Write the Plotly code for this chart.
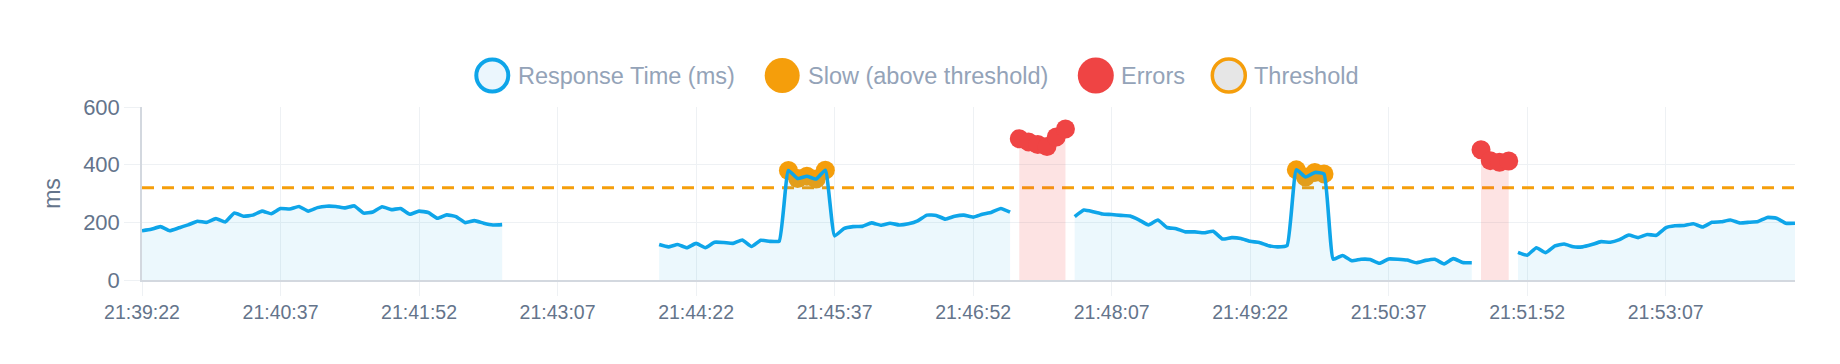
import plotly.graph_objects as go
import pandas as pd

# ---------------- data ----------------
times = pd.date_range("2024-01-01 21:39:22", periods=180, freq="5s").strftime("%H:%M:%S").tolist()

tick_labels = ["21:39:22", "21:40:37", "21:41:52", "21:43:07", "21:44:22", "21:45:37",
               "21:46:52", "21:48:07", "21:49:22", "21:50:37", "21:51:52", "21:53:07"]

response_ms = [
    171, 176, 185, 171, 181, 191, 204, 200, 213, 201, 232, 221, 225, 239, 230, 248, 246, 255, 239, 251,
    256, 255, 250, 257, 232, 236, 254, 244, 248, 228, 239, 234, 214, 226, 220, 199, 206, 197, 191, 192,
    None, None, None, None, None, None, None, None, None, None, None, None, None, None, None, None,
    123, 115, 123, 112, 127, 112, 131, 130, 127, 139, 116, 138, 134, 135, 380, 352, 360, 350, 381, 153,
    178, 185, 186, 198, 190, 197, 191, 195, 205, 225, 224, 211, 221, 225, 218, 228, 235, 248, 235,
    None, None, None, None, None, None,
    220, 243, 237, 229, 227, 224, 222, 208, 191, 208, 182, 178, 167, 167, 164, 169, 142, 147, 144, 134,
    130, 119, 115, 120, 382, 357, 373, 368, 72, 85, 67, 72, 71, 58, 73, 72, 69, 60, 68, 72, 56, 74, 61, 60,
    None, None, None, None,
    96, 86, 112, 95, 118, 125, 115, 115, 123, 133, 131, 140, 156, 147, 158, 155, 181, 188, 189, 195,
    184, 200, 202, 208, 198, 200, 203, 217, 214, 197, 197,
]

error_times = ["21:47:17", "21:47:22", "21:47:27", "21:47:32", "21:47:37", "21:47:42",
               "21:51:27", "21:51:32", "21:51:37", "21:51:42"]
error_ms = [490, 479, 470, 463, 496, 524, 452, 414, 408, 413]

threshold_ms = 320

legend_labels = ["Response Time (ms)", "Slow (above threshold)", "Errors", "Threshold"]

# ---------------- derived series ----------------
error_lookup = dict(zip(error_times, error_ms))
errors_full = [error_lookup.get(t) for t in times]
slow_full = [v if (v is not None and v > threshold_ms) else None for v in response_ms]
threshold_full = [threshold_ms] * len(times)


def segments(xs, ys):
    """Split a series with None gaps into contiguous runs."""
    out, cx, cy = [], [], []
    for x, y in zip(xs, ys):
        if y is None:
            if cx:
                out.append((cx, cy))
            cx, cy = [], []
        else:
            cx.append(x)
            cy.append(y)
    if cx:
        out.append((cx, cy))
    return out


BLUE = "#0EA5E9"
ORANGE = "#F59E0B"
RED = "#EF4444"
GRID = "#EEF1F4"
AXIS = "#D3D8DF"
TICK_TXT = "#64748B"
LEG_TXT = "#94A3B8"
FONT = "Liberation Sans, Arial, sans-serif"

fig = go.Figure()

fig.add_trace(go.Scatter(
    x=times, y=threshold_full, name="Threshold", mode="lines",
    line=dict(color=ORANGE, width=3, dash="12px,8px"), hoverinfo="skip"))

for sx, sy in segments(times, errors_full):
    fig.add_trace(go.Scatter(
        x=sx, y=sy, name="Errors", legendgroup="err", mode="markers",
        fill="tozeroy", fillcolor="rgba(239,68,68,0.15)",
        line=dict(width=0, color=RED),
        marker=dict(color=RED, size=19)))

fig.add_trace(go.Scatter(
    x=times, y=slow_full, name="Slow (above threshold)", mode="markers",
    marker=dict(color=ORANGE, size=19)))

for sx, sy in segments(times, response_ms):
    fig.add_trace(go.Scatter(
        x=sx, y=sy, name="Response Time (ms)", legendgroup="resp", mode="lines",
        line=dict(color=BLUE, width=3.6, shape="spline", smoothing=0.4),
        fill="tozeroy", fillcolor="rgba(14,165,233,0.08)"))

# ---------------- layout ----------------
L, R, T, B = 142, 45, 107, 84
W, H = 1840, 364
PW, PH = W - L - R, H - T - B


def pxx(px):
    return (px - L) / PW


def pxy(py):
    return (H - B - py) / PH


fig.update_layout(
    width=W, height=H,
    margin=dict(l=L, r=R, t=T, b=B, pad=0),
    paper_bgcolor="white", plot_bgcolor="white",
    font=dict(family=FONT, color=TICK_TXT),
    showlegend=False,
    xaxis=dict(
        type="category", categoryorder="array", categoryarray=times,
        range=[0, len(times) - 1],
        tickmode="array", tickvals=tick_labels, ticktext=tick_labels,
        showgrid=True, gridcolor=GRID, gridwidth=1,
        showline=True, linecolor=AXIS, linewidth=1.5,
        ticks="outside", ticklen=14, tickcolor=GRID, tickwidth=1,
        tickfont=dict(size=19.5, color=TICK_TXT, family=FONT),
        zeroline=False, automargin=False),
    yaxis=dict(
        range=[0, 600], tickvals=[0, 200, 400, 600],
        showgrid=True, gridcolor=GRID, gridwidth=1,
        showline=True, linecolor=AXIS, linewidth=1.5,
        ticks="outside", ticklen=16, tickcolor=GRID, tickwidth=1,
        tickfont=dict(size=22, color=TICK_TXT, family=FONT),
        title=dict(text="ms", font=dict(size=23, color=TICK_TXT, family=FONT), standoff=16),
        zeroline=False, automargin=False),
)

# ---------------- custom legend ----------------
leg_cy = 75.5
leg_cx = [492.3, 782.2, 1095.8, 1228.8]
leg_style = [
    dict(fillcolor="#EBF6FD", line=dict(color=BLUE, width=4), r=16),
    dict(fillcolor=ORANGE, line=dict(color=ORANGE, width=0), r=17.5),
    dict(fillcolor=RED, line=dict(color=RED, width=0), r=18),
    dict(fillcolor="#E6E6E6", line=dict(color=ORANGE, width=3.5), r=16.5),
]
shapes = []
annotations = []
for label, cx, st in zip(legend_labels, leg_cx, leg_style):
    r = st["r"]
    shapes.append(dict(
        type="circle", xref="paper", yref="paper",
        xsizemode="pixel", ysizemode="pixel",
        xanchor=pxx(cx), yanchor=pxy(leg_cy),
        x0=-r, x1=r, y0=-r, y1=r,
        fillcolor=st["fillcolor"], line=st["line"], layer="above"))
    annotations.append(dict(
        text=label, xref="paper", yref="paper",
        x=pxx(cx + 23.5), y=pxy(leg_cy), xanchor="left", yanchor="middle",
        showarrow=False, font=dict(size=23.5, color=LEG_TXT, family=FONT)))

fig.update_layout(shapes=shapes, annotations=annotations)

fig.write_html("out.html")
